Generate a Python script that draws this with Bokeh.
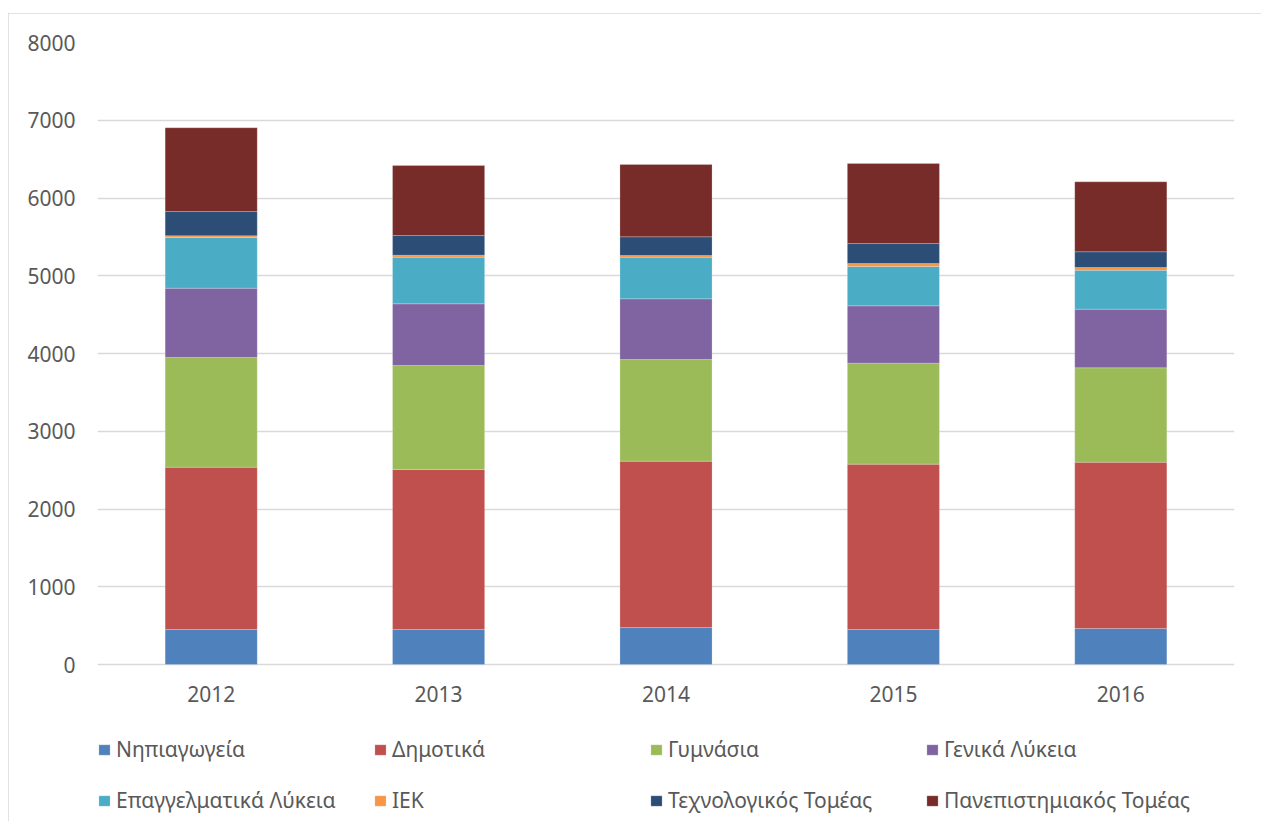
from bokeh.plotting import figure
from bokeh.models import (ColumnDataSource, Legend, LegendItem, FactorRange, Range1d,
                          FixedTicker)
from bokeh.core.properties import value
from bokeh.embed import file_html
from bokeh.resources import INLINE

years = ["2012", "2013", "2014", "2015", "2016"]
series = ["Νηπιαγωγεία", "Δημοτικά", "Γυμνάσια", "Γενικά Λύκεια",
          "Επαγγελματικά Λύκεια", "ΙΕΚ", "Τεχνολογικός Τομέας", "Πανεπιστημιακός Τομέας"]
nipiagogeia = [450, 450, 475, 450, 462]
dimotika = [2088, 2058, 2140, 2127, 2140]
gymnasia = [1411, 1338, 1308, 1299, 1214]
genika = [891, 793, 780, 737, 754]
epaggelmatika = [652, 599, 535, 505, 501]
iek = [22, 26, 22, 40, 35]
technologikos = [312, 254, 241, 257, 202]
panepistimiakos = [1077, 900, 930, 1029, 900]
y_ticks = [0, 1000, 2000, 3000, 4000, 5000, 6000, 7000, 8000]
colors = ["#4F81BD", "#C0504D", "#9BBB59", "#8064A2",
          "#4BACC6", "#F79646", "#2C4D75", "#772C2A"]

keys = ["s%d" % i for i in range(8)]
data = dict(x=years, base=[y_ticks[0]] * len(years))
for k, vals in zip(keys, [nipiagogeia, dimotika, gymnasia, genika, epaggelmatika,
                          iek, technologikos, panepistimiakos]):
    data[k] = vals
source = ColumnDataSource(data)

FONT = "Noto Sans"
TXT = "#595959"
FS = "21px"

# layout in pixels (figure placed at page x=8, y=13)
W, H = 1253, 808
top_px, zero_px, bottom_px = 29, 651, H      # frame top, value 0, frame bottom (figure px)
ymax = y_ticks[-1]
ymin = -ymax * (bottom_px - zero_px) / (zero_px - top_px)

p = figure(x_range=FactorRange(*years, range_padding=0), y_range=Range1d(ymin, ymax),
           width=W, height=H, output_backend="svg", toolbar_location=None,
           x_axis_location=None,
           min_border_left=89, min_border_right=27, min_border_top=top_px, min_border_bottom=0)

renderers = p.vbar_stack(keys, x="x", width=0.405, source=source, color=colors,
                         line_color="white", line_width=0.4, line_alpha=0.5)

# category labels under the bars
p.text(x="x", y="base", text="x", source=source, text_align="center",
       text_baseline="top", y_offset=21, text_font=value(FONT), text_font_size=value(FS),
       text_color=TXT)

p.outline_line_color = None
p.background_fill_color = "white"
p.border_fill_color = "white"
p.xgrid.grid_line_color = None
p.ygrid.grid_line_color = "#d9d9d9"
p.ygrid.grid_line_width = 1.3
p.yaxis.ticker = FixedTicker(ticks=y_ticks)
p.yaxis.axis_line_color = None
p.yaxis.major_tick_line_color = None
p.yaxis.minor_tick_line_color = None
p.yaxis.major_tick_in = 0
p.yaxis.major_tick_out = 0
p.yaxis.major_label_text_font = FONT
p.yaxis.major_label_text_font_size = FS
p.yaxis.major_label_text_color = TXT
p.yaxis.major_label_standoff = 22

items = [LegendItem(label=s, renderers=[r]) for s, r in zip(series, renderers)]
lg = Legend(items=items, location=(0, 6), orientation="horizontal", ncols=4,
            glyph_width=14, glyph_height=13, label_standoff=5,
            label_height=30, label_width=236, spacing=21, padding=0, margin=0,
            border_line_color=None, background_fill_alpha=0,
            label_text_font=FONT, label_text_font_size=FS,
            label_text_color=TXT)
p.add_layout(lg, "center")

p.styles = {"margin-left": "8px", "margin-top": "13px",
            "outline": "1px solid #d9d9d9", "outline-offset": "-1px"}

open("out.html", "w").write(file_html(p, INLINE))
